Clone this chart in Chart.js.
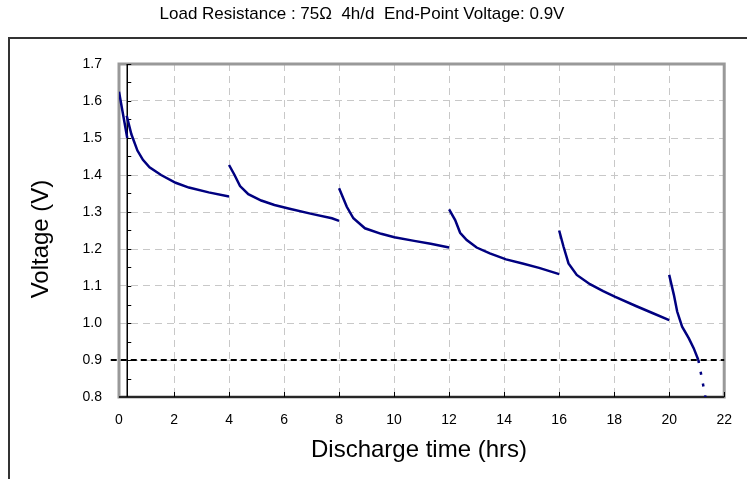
<!DOCTYPE html>
<html>
<head>
<meta charset="utf-8">
<script src="https://cdn.jsdelivr.net/npm/chart.js@4"></script>
<style>
  html, body { margin: 0; padding: 0; background: #fff; }
</style>
</head>
<body>
<canvas id="chart" width="747" height="479"></canvas>
<script>
// Discharge curve. null in volts = break between daily sessions (4h/d)
const hours = [
  0, 0.30, 0,
  0.28, 0.45, 0.67, 0.87, 1.11, 1.53, 2.06, 2.54, 3.26, 4.0, 0,
  4.0, 4.2, 4.4, 4.7, 5.17, 5.65, 6.2, 7.0, 7.74, 8.0, 0,
  8.0, 8.28, 8.52, 8.94, 9.53, 10.01, 10.73, 11.33, 12.0, 0,
  12.0, 12.22, 12.4, 12.64, 13.0, 13.48, 14.07, 14.67, 15.27, 16.0, 0,
  16.0, 16.16, 16.34, 16.64, 17.12, 17.6, 18.02, 18.79, 19.39, 20.0, 0,
  20.0, 20.17, 20.29, 20.47, 20.71, 20.89, 21.06
];
const volts = [
  1.625, 1.50, null,
  1.56, 1.51, 1.466, 1.441, 1.421, 1.400, 1.379, 1.366, 1.353, 1.342, null,
  1.427, 1.40, 1.370, 1.348, 1.331, 1.319, 1.309, 1.295, 1.283, 1.276, null,
  1.364, 1.314, 1.283, 1.256, 1.241, 1.232, 1.222, 1.214, 1.204, null,
  1.307, 1.278, 1.244, 1.224, 1.204, 1.188, 1.172, 1.161, 1.149, 1.132, null,
  1.250, 1.206, 1.161, 1.130, 1.105, 1.086, 1.071, 1.046, 1.027, 1.008, null,
  1.130, 1.076, 1.031, 0.990, 0.959, 0.932, 0.900
];
// dotted part below the end-point voltage
const tailHours = [21.06, 21.19, 21.33];
const tailVolts = [0.900, 0.850, 0.795];

const endPointVoltage = 0.9;
const endLineHours = [-0.3, 22];

const titleText = "Load Resistance : 75\u03A9  4h/d  End-Point Voltage: 0.9V";
const xTitle = "Discharge time (hrs)";
const yTitle = "Voltage (V)";

const FONT = "'Liberation Sans', Arial, sans-serif";
Chart.defaults.font.family = FONT;
Chart.defaults.color = "#000";

const toPoints = (xs, ys) => xs.map((h, i) => ({ x: h, y: ys[i] }));

// frame, black axes with small ticks, titles and outer border
const framePlugin = {
  id: "frame",
  beforeDatasetsDraw(chart) {
    const { ctx, chartArea: a, scales: { x, y } } = chart;
    ctx.save();
    ctx.strokeStyle = "#999";
    ctx.lineWidth = 3;
    ctx.strokeRect(a.left, a.top, a.right - a.left, a.bottom - a.top);

    ctx.strokeStyle = "#000";
    ctx.lineWidth = 1.5;
    const ax = x.getPixelForValue(0.3);
    ctx.beginPath();
    ctx.moveTo(ax, a.top);
    ctx.lineTo(ax, a.bottom);
    ctx.moveTo(a.left, a.bottom);
    ctx.lineTo(a.right, a.bottom);
    ctx.stroke();

    ctx.lineWidth = 1;
    ctx.beginPath();
    for (let v = 0.85; v <= 1.701; v += 0.05) {
      const py = Math.round(y.getPixelForValue(v)) + 0.5;
      ctx.moveTo(ax, py);
      ctx.lineTo(ax + 4, py);
    }
    for (let h = 2; h <= 22; h += 2) {
      const px = Math.round(x.getPixelForValue(h)) + 0.5;
      ctx.moveTo(px, a.bottom);
      ctx.lineTo(px, a.bottom - 5);
    }
    ctx.stroke();
    ctx.restore();
  },
  afterDraw(chart) {
    const { ctx } = chart;
    ctx.save();
    ctx.fillStyle = "#000";
    ctx.textAlign = "center";
    ctx.textBaseline = "middle";
    ctx.font = "17px " + FONT;
    ctx.fillText(titleText, 362, 14);
    ctx.font = "24px " + FONT;
    ctx.fillText(xTitle, 419, 450);
    ctx.translate(41, 239);
    ctx.rotate(-Math.PI / 2);
    ctx.fillText(yTitle, 0, 0);
    ctx.restore();

    ctx.save();
    ctx.strokeStyle = "#333";
    ctx.lineWidth = 2;
    ctx.strokeRect(9, 38, 800, 500);
    ctx.restore();
  }
};

new Chart(document.getElementById("chart"), {
  type: "line",
  data: {
    datasets: [
      {
        data: toPoints(hours, volts),
        borderColor: "#000080",
        borderWidth: 2.5,
        pointRadius: 0,
        tension: 0,
        spanGaps: false
      },
      {
        data: toPoints(tailHours, tailVolts),
        borderColor: "#000080",
        borderWidth: 2.5,
        borderDash: [3, 9],
        pointRadius: 0
      },
      {
        data: endLineHours.map(h => ({ x: h, y: endPointVoltage })),
        borderColor: "#000",
        borderWidth: 1.8,
        borderDash: [6, 4],
        pointRadius: 0,
        clip: false
      }
    ]
  },
  options: {
    responsive: false,
    animation: false,
    layout: { padding: { top: 64, right: 13, left: 0, bottom: 0 } },
    plugins: { legend: { display: false }, tooltip: { enabled: false } },
    scales: {
      x: {
        type: "linear",
        min: 0,
        max: 22,
        ticks: { stepSize: 2, padding: 15, font: { size: 14 } },
        grid: { color: "#c8c8c8", lineWidth: 1, drawTicks: false },
        border: { display: false, dash: [7, 5] },
        afterFit: s => { s.height = 82; }
      },
      y: {
        min: 0.8,
        max: 1.7,
        ticks: { stepSize: 0.1, padding: 17, font: { size: 14 }, callback: v => v.toFixed(1) },
        grid: { color: "#c8c8c8", lineWidth: 1, drawTicks: false },
        border: { display: false, dash: [7, 5] },
        afterFit: s => { s.width = 119; }
      }
    }
  },
  plugins: [framePlugin]
});
</script>
</body>
</html>
